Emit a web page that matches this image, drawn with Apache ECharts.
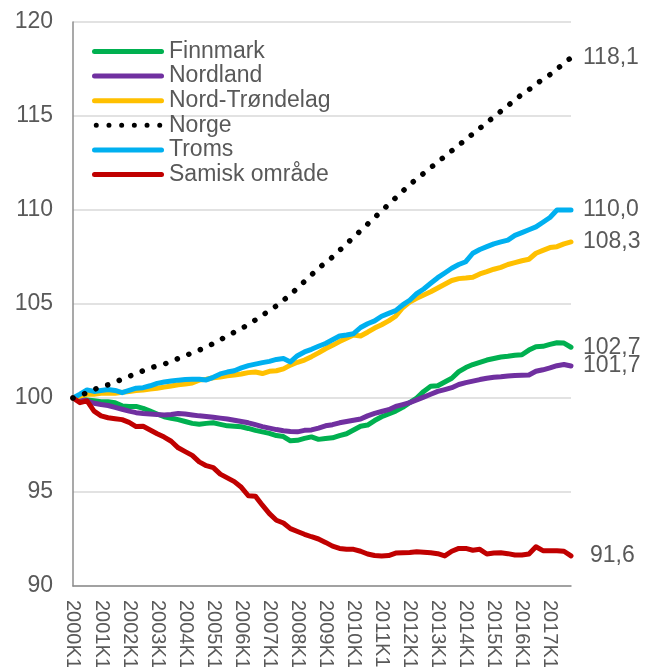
<!DOCTYPE html>
<html>
<head>
<meta charset="utf-8">
<script src="https://cdn.jsdelivr.net/npm/echarts@6/dist/echarts.min.js"></script>
<style>
  html, body { margin: 0; padding: 0; background: #fff; }
  #chart { width: 645px; height: 667px; }
</style>
</head>
<body>
<div id="chart"></div>
<script>
/**
 * Befolkningsutvikling, indeks 2000K1 = 100
 */

// kvartaler 2000K1 - 2017K4
var years = [];
for (var y = 2000; y <= 2017; y++) years.push(y);
var quarters = [];
years.forEach(function (yr) {
  for (var q = 1; q <= 4; q++) quarters.push(yr + 'K' + q);
});

var finnmark = [
  100.0, 99.95, 99.9, 99.85, 99.8, 99.8, 99.75, 99.58, 99.55, 99.55, 99.45, 99.3,
  99.15, 99.0, 98.92, 98.85, 98.75, 98.65, 98.6, 98.65, 98.68, 98.6, 98.52, 98.5,
  98.47, 98.38, 98.28, 98.2, 98.12, 98.0, 97.95, 97.72, 97.75, 97.85, 97.93, 97.8,
  97.85, 97.88, 98.0, 98.1, 98.3, 98.5, 98.56, 98.8, 99.0, 99.15, 99.3, 99.5,
  99.75, 100.0, 100.35, 100.62, 100.65, 100.85, 101.05, 101.4, 101.62, 101.78, 101.9, 102.02,
  102.1, 102.18, 102.22, 102.27, 102.3, 102.55, 102.73, 102.75, 102.85, 102.94, 102.92, 102.7
];
var nordland = [
  100.0, 99.95, 99.85, 99.72, 99.65, 99.6, 99.5, 99.4, 99.3, 99.22, 99.18, 99.15,
  99.12, 99.1, 99.12, 99.18, 99.15, 99.1, 99.05, 99.02, 98.98, 98.93, 98.88, 98.82,
  98.75, 98.68, 98.58, 98.48, 98.4, 98.32, 98.26, 98.22, 98.2, 98.28, 98.3, 98.4,
  98.52, 98.58, 98.68, 98.75, 98.82, 98.88, 99.05, 99.18, 99.28, 99.38, 99.55, 99.65,
  99.75, 99.9, 100.05, 100.2, 100.35, 100.45, 100.55, 100.72, 100.82, 100.9, 100.98, 101.05,
  101.1, 101.13, 101.17, 101.2, 101.21, 101.22, 101.42, 101.5, 101.6, 101.72, 101.78, 101.7
];
var nordTrondelag = [
  100.0, 100.1, 100.2, 100.2, 100.25, 100.25, 100.25, 100.3, 100.35, 100.4, 100.42, 100.48,
  100.52, 100.58, 100.64, 100.7, 100.74, 100.8, 100.95, 101.0, 101.08, 101.12, 101.18, 101.22,
  101.28, 101.35, 101.38, 101.3, 101.42, 101.45, 101.55, 101.75, 101.9, 102.02, 102.2, 102.4,
  102.62, 102.8, 103.0, 103.18, 103.35, 103.3, 103.5, 103.72, 103.9, 104.1, 104.35, 104.8,
  105.1, 105.3, 105.48, 105.65, 105.85, 106.05, 106.25, 106.35, 106.38, 106.42, 106.6, 106.72,
  106.85, 106.95, 107.1, 107.2, 107.3, 107.38, 107.7, 107.85, 108.0, 108.05, 108.2, 108.3
];
var norge = [
  100.0, 100.1, 100.3, 100.45, 100.6, 100.7, 100.85, 101.0, 101.15, 101.3, 101.45, 101.6,
  101.7, 101.8, 101.95, 102.1, 102.25, 102.4, 102.55, 102.7, 102.9, 103.1, 103.3, 103.5,
  103.7, 103.9, 104.15, 104.4, 104.65, 104.9, 105.2, 105.5, 105.85, 106.2, 106.55, 106.9,
  107.2, 107.5, 107.85, 108.2, 108.55, 108.9, 109.25, 109.6, 109.95, 110.3, 110.65, 111.0,
  111.35, 111.65, 111.95, 112.25, 112.55, 112.85, 113.15, 113.45, 113.75, 114.05, 114.35, 114.65,
  114.95, 115.25, 115.55, 115.85, 116.15, 116.4, 116.7, 116.95, 117.2, 117.5, 117.8, 118.1
];
var troms = [
  100.0, 100.2, 100.43, 100.35, 100.4, 100.45, 100.4, 100.28, 100.4, 100.52, 100.55, 100.65,
  100.78, 100.85, 100.9, 100.95, 100.98, 101.0, 101.0, 100.96, 101.1, 101.28, 101.38, 101.45,
  101.6, 101.72, 101.8, 101.88, 101.95, 102.05, 102.1, 101.92, 102.25, 102.45, 102.59, 102.75,
  102.9, 103.1, 103.3, 103.35, 103.42, 103.75, 103.95, 104.1, 104.35, 104.5, 104.65, 104.95,
  105.2, 105.55, 105.8, 106.1, 106.4, 106.65, 106.9, 107.1, 107.25, 107.7, 107.9, 108.05,
  108.2, 108.3, 108.4, 108.65, 108.8, 108.95, 109.1, 109.35, 109.6, 110.0, 110.0, 110.0
];
var samisk = [
  100.0, 99.75, 99.85, 99.3, 99.05, 98.95, 98.9, 98.85, 98.7, 98.48, 98.5, 98.3,
  98.1, 97.92, 97.7, 97.35, 97.15, 96.95, 96.6, 96.4, 96.3, 95.95, 95.75, 95.55,
  95.25, 94.8, 94.78, 94.3, 93.85, 93.5, 93.35, 93.05, 92.9, 92.75, 92.62, 92.5,
  92.32, 92.12, 92.0, 91.95, 91.95, 91.85, 91.7, 91.62, 91.6, 91.62, 91.75, 91.77,
  91.78, 91.82, 91.8, 91.77, 91.72, 91.6, 91.85, 92.0, 92.0, 91.9, 91.95, 91.7,
  91.75, 91.77, 91.72, 91.65, 91.65, 91.7, 92.09, 91.88, 91.88, 91.88, 91.85, 91.6
];

var seriesNames = ['Finnmark', 'Nordland', 'Nord-Trøndelag', 'Norge', 'Troms', 'Samisk område'];
var seriesData = [finnmark, nordland, nordTrondelag, norge, troms, samisk];
var seriesColors = ['#00B050', '#7030A0', '#FFC000', '#000000', '#00B0F0', '#C00000'];

var fontName = '"Liberation Sans", Arial, sans-serif';
var textColor = '#595959';

// legend-ikoner: heltrukken strek og prikkete strek
var solidIcon = 'path://M2.5,0 L69.5,0 A2.5,2.5 0 0,1 69.5,5 L2.5,5 A2.5,2.5 0 0,1 2.5,0 Z';
var dotIcon = 'path://';
for (var d = 0; d < 6; d++) {
  var cx = 2.6 + d * 13.2;
  dotIcon += 'M' + (cx - 2.6) + ',2.6 a2.6,2.6 0 1,0 5.2,0 a2.6,2.6 0 1,0 -5.2,0 ';
}

function fmt(v) {
  return v.toFixed(1).replace('.', ',');
}

function initChart() {
  var dom = document.getElementById('chart');
  var chart = echarts.init(dom, null, { renderer: 'canvas' });

  var series = seriesNames.map(function (name, i) {
    var dotted = name === 'Norge';
    return {
      name: name,
      type: 'line',
      data: seriesData[i],
      symbol: 'none',
      z: dotted ? 5 : (i === 5 ? 3 : 2),
      lineStyle: {
        color: seriesColors[i],
        width: dotted ? 5.5 : 5,
        type: dotted ? [0.1, 12.3] : 'solid',
        cap: 'round',
        join: 'round'
      },
      itemStyle: { color: seriesColors[i] },
      endLabel: {
        show: true,
        distance: name === 'Samisk område' ? 19 : 12,
        formatter: function (p) { return fmt(p.value); },
        fontSize: 23,
        fontFamily: fontName,
        color: textColor
      }
    };
  });

  var legendData = seriesNames.map(function (name) {
    return { name: name, icon: name === 'Norge' ? dotIcon : solidIcon };
  });

  var option = {
    animation: false,
    backgroundColor: '#ffffff',
    textStyle: { fontFamily: fontName },
    grid: {
      left: 73,
      right: 74,
      top: 22,
      bottom: 81,
      containLabel: false,
      outerBoundsMode: 'none'
    },
    legend: {
      orient: 'vertical',
      left: 92,
      top: 40,
      padding: 0,
      itemWidth: 72,
      itemHeight: 5,
      itemGap: 1.6,
      data: legendData,
      textStyle: {
        fontSize: 23,
        lineHeight: 23,
        color: textColor,
        fontFamily: fontName
      }
    },
    xAxis: {
      type: 'category',
      data: quarters,
      boundaryGap: false,
      axisLine: { show: true, lineStyle: { color: '#8c8c8c', width: 1.5 } },
      axisTick: { show: false },
      axisLabel: {
        interval: 3,
        rotate: -90,
        margin: 14,
        fontSize: 20,
        color: textColor,
        fontFamily: fontName
      },
      splitLine: { show: false }
    },
    yAxis: {
      type: 'value',
      min: 90,
      max: 120,
      interval: 5,
      axisLine: { show: true, lineStyle: { color: '#8c8c8c', width: 1.5 } },
      axisTick: { show: false },
      axisLabel: {
        margin: 20,
        fontSize: 23,
        color: textColor,
        fontFamily: fontName
      },
      splitLine: { show: true, lineStyle: { color: '#d9d9d9', width: 1.5 } }
    },
    series: series
  };

  chart.setOption(option, true);
}

initChart();
</script>
</body>
</html>
